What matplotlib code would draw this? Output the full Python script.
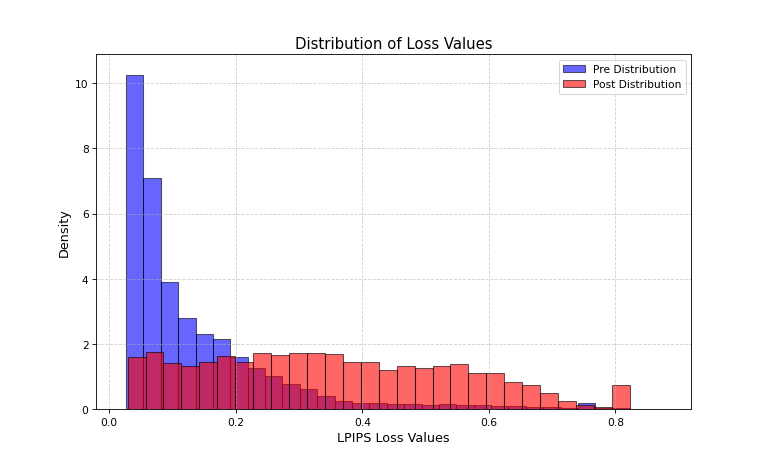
import matplotlib.pyplot as plt
import numpy as np

# Bin densities
pre_density = [10.25, 7.1, 3.9, 2.8, 2.3, 2.15, 1.6,
               1.27, 1.03, 0.77, 0.62, 0.4, 0.25, 0.2, 0.18, 0.17, 0.15, 0.13,
               0.15, 0.13, 0.12, 0.1, 0.1, 0.08, 0.07, 0.05, 0.2, 0.05, 0.03, 0.02]
post_density = [1.6, 1.76, 1.41, 1.34, 1.46, 1.65, 1.45, 1.74, 1.67, 1.74,
                1.73, 1.69, 1.46, 1.44, 1.22, 1.32, 1.27, 1.34, 1.38, 1.1,
                1.12, 0.83, 0.75, 0.49, 0.24, 0.12, 0.07, 0.75]
pre_range = (0.0265, 0.851)
post_range = (0.029, 0.823)

pre_edges = np.linspace(*pre_range, len(pre_density) + 1)
post_edges = np.linspace(*post_range, len(post_density) + 1)

fig, ax = plt.subplots(figsize=(10, 6), dpi=76.8)
ax.hist(pre_edges[:-1], bins=pre_edges, weights=pre_density, color='blue',
        alpha=0.6, edgecolor='black', label='Pre Distribution')
ax.hist(post_edges[:-1], bins=post_edges, weights=post_density, color='red',
        alpha=0.6, edgecolor='black', label='Post Distribution')

ax.set_xlim(-0.021, 0.92)
ax.set_ylim(0, 10.88)
ax.set_xlabel('LPIPS Loss Values', fontsize=12)
ax.set_ylabel('Density', fontsize=12)
ax.set_title('Distribution of Loss Values', fontsize=14)
ax.legend()
ax.grid(True, linestyle='--', alpha=0.6)
fig.savefig('out.png')
